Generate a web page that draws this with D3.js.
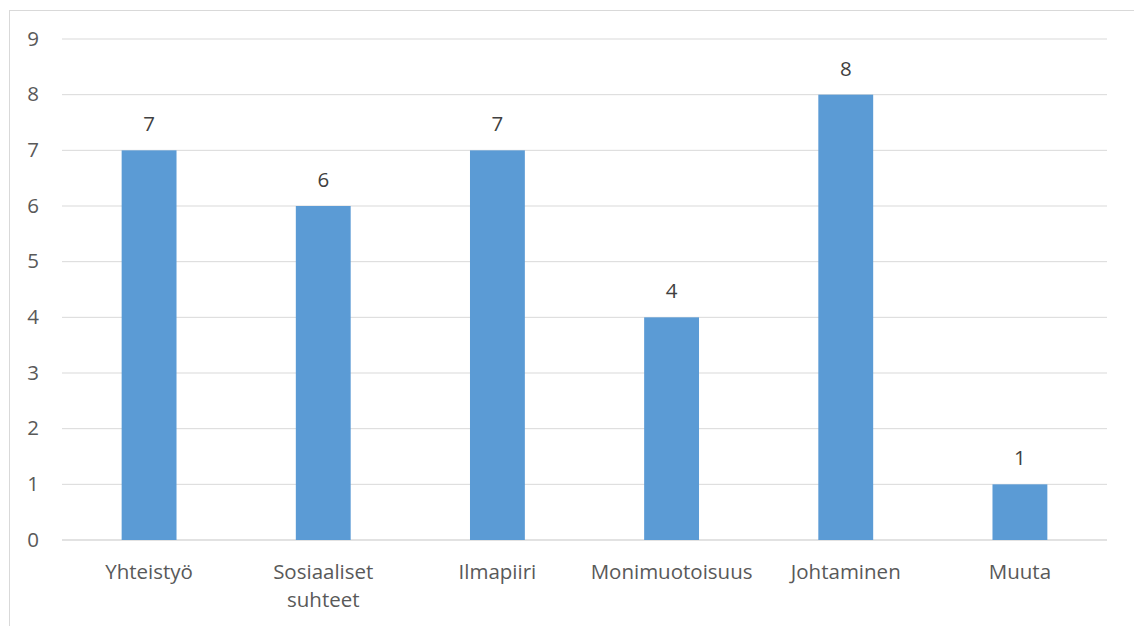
<!DOCTYPE html>
<html>
<head>
<meta charset="utf-8">
<script src="https://cdn.jsdelivr.net/npm/d3@7"></script>
<style>
  body { margin: 0; background: #fff; }
  svg text { font-family: "Open Sans", sans-serif; fill: #595959; }
</style>
</head>
<body>
<svg width="1134" height="626"></svg>
<script>
var categories = ["Yhteistyö", "Sosiaaliset suhteet", "Ilmapiiri", "Monimuotoisuus", "Johtaminen", "Muuta"];
var values = [7, 6, 7, 4, 8, 1];
var yTicks = [0, 1, 2, 3, 4, 5, 6, 7, 8, 9];

var svg = d3.select("svg");
var plotLeft = 62, plotRight = 1107, plotTop = 39, plotBottom = 540;
var fontSize = 20.5;

// chart area border
svg.append("rect")
    .attr("x", 9.5).attr("y", 10.5)
    .attr("width", 1140).attr("height", 640)
    .attr("fill", "none")
    .attr("stroke", "#d9d9d9")
    .attr("stroke-width", 1);

var x = d3.scaleBand()
    .domain(categories)
    .range([plotLeft, plotRight])
    .paddingInner(0.685)
    .paddingOuter(0.3425);

var y = d3.scaleLinear()
    .domain([0, 9])
    .range([plotBottom, plotTop]);

// gridlines
svg.append("g")
    .selectAll("line")
    .data(yTicks)
    .enter().append("line")
      .attr("x1", plotLeft).attr("x2", plotRight)
      .attr("y1", function(d) { return y(d); })
      .attr("y2", function(d) { return y(d); })
      .attr("stroke", "#d9d9d9")
      .attr("stroke-width", function(d) { return d == 0 ? 1.5 : 1; });

// y tick labels
svg.append("g")
    .selectAll("text")
    .data(yTicks)
    .enter().append("text")
      .attr("x", 39)
      .attr("y", function(d) { return y(d) + 6.5; })
      .attr("text-anchor", "end")
      .attr("font-size", fontSize)
      .text(function(d) { return d; });

// bars
svg.append("g")
    .selectAll("rect")
    .data(values)
    .enter().append("rect")
      .attr("x", function(d, i) { return x(categories[i]); })
      .attr("y", function(d) { return y(d); })
      .attr("width", x.bandwidth())
      .attr("height", function(d) { return y(0) - y(d); })
      .attr("fill", "#5b9bd5");

// value labels
svg.append("g")
    .selectAll("text")
    .data(values)
    .enter().append("text")
      .attr("x", function(d, i) { return x(categories[i]) + x.bandwidth() / 2; })
      .attr("y", function(d) { return y(d) - 19; })
      .attr("text-anchor", "middle")
      .attr("font-size", fontSize)
      .style("fill", "#404040")
      .text(function(d) { return d; });

// category labels, wrap two-word label
var cat = svg.append("g")
    .selectAll("text")
    .data(categories)
    .enter().append("text")
      .attr("x", function(d) { return x(d) + x.bandwidth() / 2; })
      .attr("y", 579)
      .attr("text-anchor", "middle")
      .attr("font-size", fontSize);

cat.each(function(d) {
  var el = d3.select(this);
  var words = d == "Sosiaaliset suhteet" ? d.split(" ") : [d];
  words.forEach(function(w, i) {
    el.append("tspan")
      .attr("x", x(d) + x.bandwidth() / 2)
      .attr("dy", i == 0 ? 0 : 28)
      .text(w);
  });
});
</script>
</body>
</html>
